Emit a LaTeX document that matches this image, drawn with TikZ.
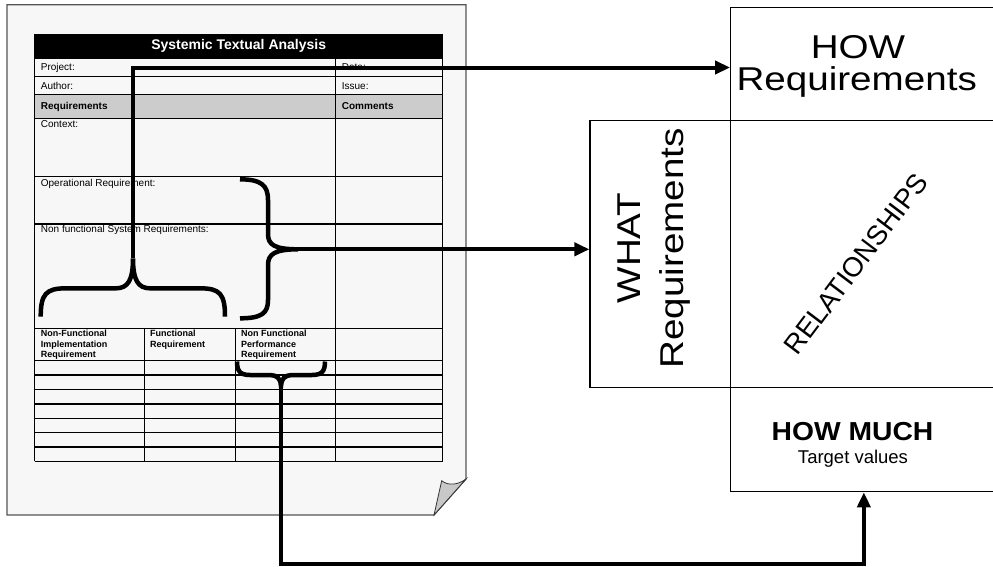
\documentclass[tikz,border=0pt]{standalone}
\usepackage{fontspec}
\setmainfont{Liberation Sans}
\usetikzlibrary{arrows.meta,fit}
\definecolor{pagefill}{HTML}{F7F7F7}
\definecolor{pageedge}{HTML}{555555}
\definecolor{rowgray}{HTML}{CCCCCC}
\definecolor{foldgray}{HTML}{C8C8C8}

\begin{document}
\begin{tikzpicture}[x=1pt,y=-1pt,
  grid/.style={line width=1.1pt, black},
  lbl/.style={anchor=west, inner sep=0pt, font=\fontsize{10}{12}\selectfont},
  blbl/.style={anchor=west, inner sep=0pt, font=\fontsize{10}{12}\selectfont\bfseries},
  hdr/.style={anchor=north west, inner sep=0pt, align=left, font=\fontsize{9}{10.5}\selectfont\bfseries},
  brace/.style={line width=4.5pt},
  conn/.style={line width=4pt, -{Triangle[length=15pt,width=13pt]}},
  qbox/.style={draw, line width=1.2pt, inner sep=0pt, fit=#1},
  big/.style={font=\fontsize{33}{33}\selectfont, inner sep=0pt, anchor=base},
]
\useasboundingbox (0,0) rectangle (993,566);

% ---- the form sheet ----
\path[fill=pagefill, draw=pageedge, line width=1.3pt]
  (7,4.7) -- (466,4.7) -- (466,479) -- (434,515) -- (7,515) -- cycle;
\path[fill=foldgray, draw=black!80, line width=0.8pt]
  (434,515) -- (441.7,480.7) .. controls (448,486) and (458,485) .. (466,479) -- cycle;

% title bar and shaded heading row
\fill[black] (34.7,34.3) rectangle (442.7,58.3);
\fill[rowgray] (34.7,94.7) rectangle (442.7,118.3);
\foreach \y in {58.3,76.7,94.7,118.3,176.7,224,328.3,360.7,375,389.3,404,418.3,432.7,447,461.3}
  \draw[grid] (34.7,\y) -- (442.7,\y);
\foreach \x in {34.7,335.7,442.7}
  \draw[grid] (\x,34.3) -- (\x,461.3);
\foreach \x in {144.3,235.3}
  \draw[grid] (\x,328.3) -- (\x,461.3);

\node[inner sep=0pt, text=white, font=\fontsize{14}{16}\selectfont\bfseries] (title) at (238.7,46.3) {Systemic Textual Analysis};
\node[lbl] (project) at (40.7,67.5) {Project:};
\node[lbl] (author) at (40.7,85.7) {Author:};
\node[blbl] (reqs) at (40.7,106.5) {Requirements};
\node[lbl] (date) at (341.7,67.5) {Date:};
\node[lbl] (issue) at (341.7,85.7) {Issue:};
\node[blbl] (comments) at (341.7,106.5) {Comments};
\node[lbl] (context) at (40.7,124.5) {Context:};
\node[lbl] (oper) at (40.7,184) {Operational Requirement:};
\node[lbl] (nfsys) at (40.7,230) {Non functional System Requirements:};
\node[hdr] (h1) at (40.7,330) {Non-Functional\\Implementation\\Requirement};
\node[hdr] (h2) at (150,330) {Functional\\Requirement};
\node[hdr] (h3) at (241,330) {Non Functional\\Performance\\Requirement};

% ---- quality matrix ----
\coordinate (howA) at (730.7,7.3);   \coordinate (howB) at (997,120.7);
\coordinate (whatA) at (590,120.7);  \coordinate (whatB) at (730.7,387.3);
\coordinate (relA) at (730.7,120.7); \coordinate (relB) at (997,387.3);
\coordinate (muchA) at (730.7,387.3);\coordinate (muchB) at (997,491.7);
\node[qbox=(howA)(howB)] (how) {};
\node[qbox=(whatA)(whatB)] (what) {};
\node[qbox=(relA)(relB)] (rel) {};
\node[qbox=(muchA)(muchB)] (much) {};

\node[big] (howT1) at (858,58.3) {\scalebox{1.17}[1]{HOW}};
\node[big] (howT2) at (856.7,90) {\scalebox{1.17}[1]{Requirements}};
\node[big, rotate=90] (whatT1) at (640,248) {\scalebox{1.17}[1]{WHAT}};
\node[big, rotate=90] (whatT2) at (683,248.5) {\scalebox{1.17}[1]{Requirements}};
\node[inner sep=0pt, rotate=53, font=\fontsize{27.5}{28}\selectfont] (relT) at (856,264) {RELATIONSHIPS};
\node[inner sep=0pt, anchor=base, font=\fontsize{26}{26}\selectfont\bfseries] (muchT) at (852.5,440) {\scalebox{1.087}[1]{HOW MUCH}};
\node[inner sep=0pt, anchor=base, font=\fontsize{18.5}{20}\selectfont] (target) at (853,463) {Target values};

% ---- braces grouping the form fields ----
\coordinate (hb) at (133,258.3);
\coordinate (vb) at (298,249.3);
\coordinate (bb) at (281,386);
\coordinate (low) at (281,564);

\draw[brace] (40.7,316.7) .. controls (40.7,294) and (46,288.3) .. (66,288.3) -- (116,288.3)
  .. controls (128,288.3) and (133,280) .. (hb)
  .. controls (133,280) and (138,288.3) .. (150,288.3) -- (200,288.3)
  .. controls (220,288.3) and (225,294) .. (225,316.7);
\draw[brace] (240,179.3) .. controls (262,179.3) and (268,186) .. (268,200) -- (268,234)
  .. controls (268,245) and (275,249.3) .. (vb)
  .. controls (275,249.3) and (268,254) .. (268,265) -- (268,300)
  .. controls (268,313) and (262,318.3) .. (240,318.3);
\draw[brace] (237,361.5) .. controls (237,371) and (240,375) .. (250,375) -- (270,375)
  .. controls (277,375) and (281,379) .. (bb)
  .. controls (281,379) and (285,375) .. (292,375) -- (312,375)
  .. controls (322,375) and (325,371) .. (325,361.5);

% ---- connectors ----
\draw[conn] (hb) |- ([yshift=-3.5pt]how.west);
\draw[conn] (vb) -- (vb -| what.west);
\draw[conn] (bb) -- (low) -| (much.south);
\end{tikzpicture}
\end{document}
